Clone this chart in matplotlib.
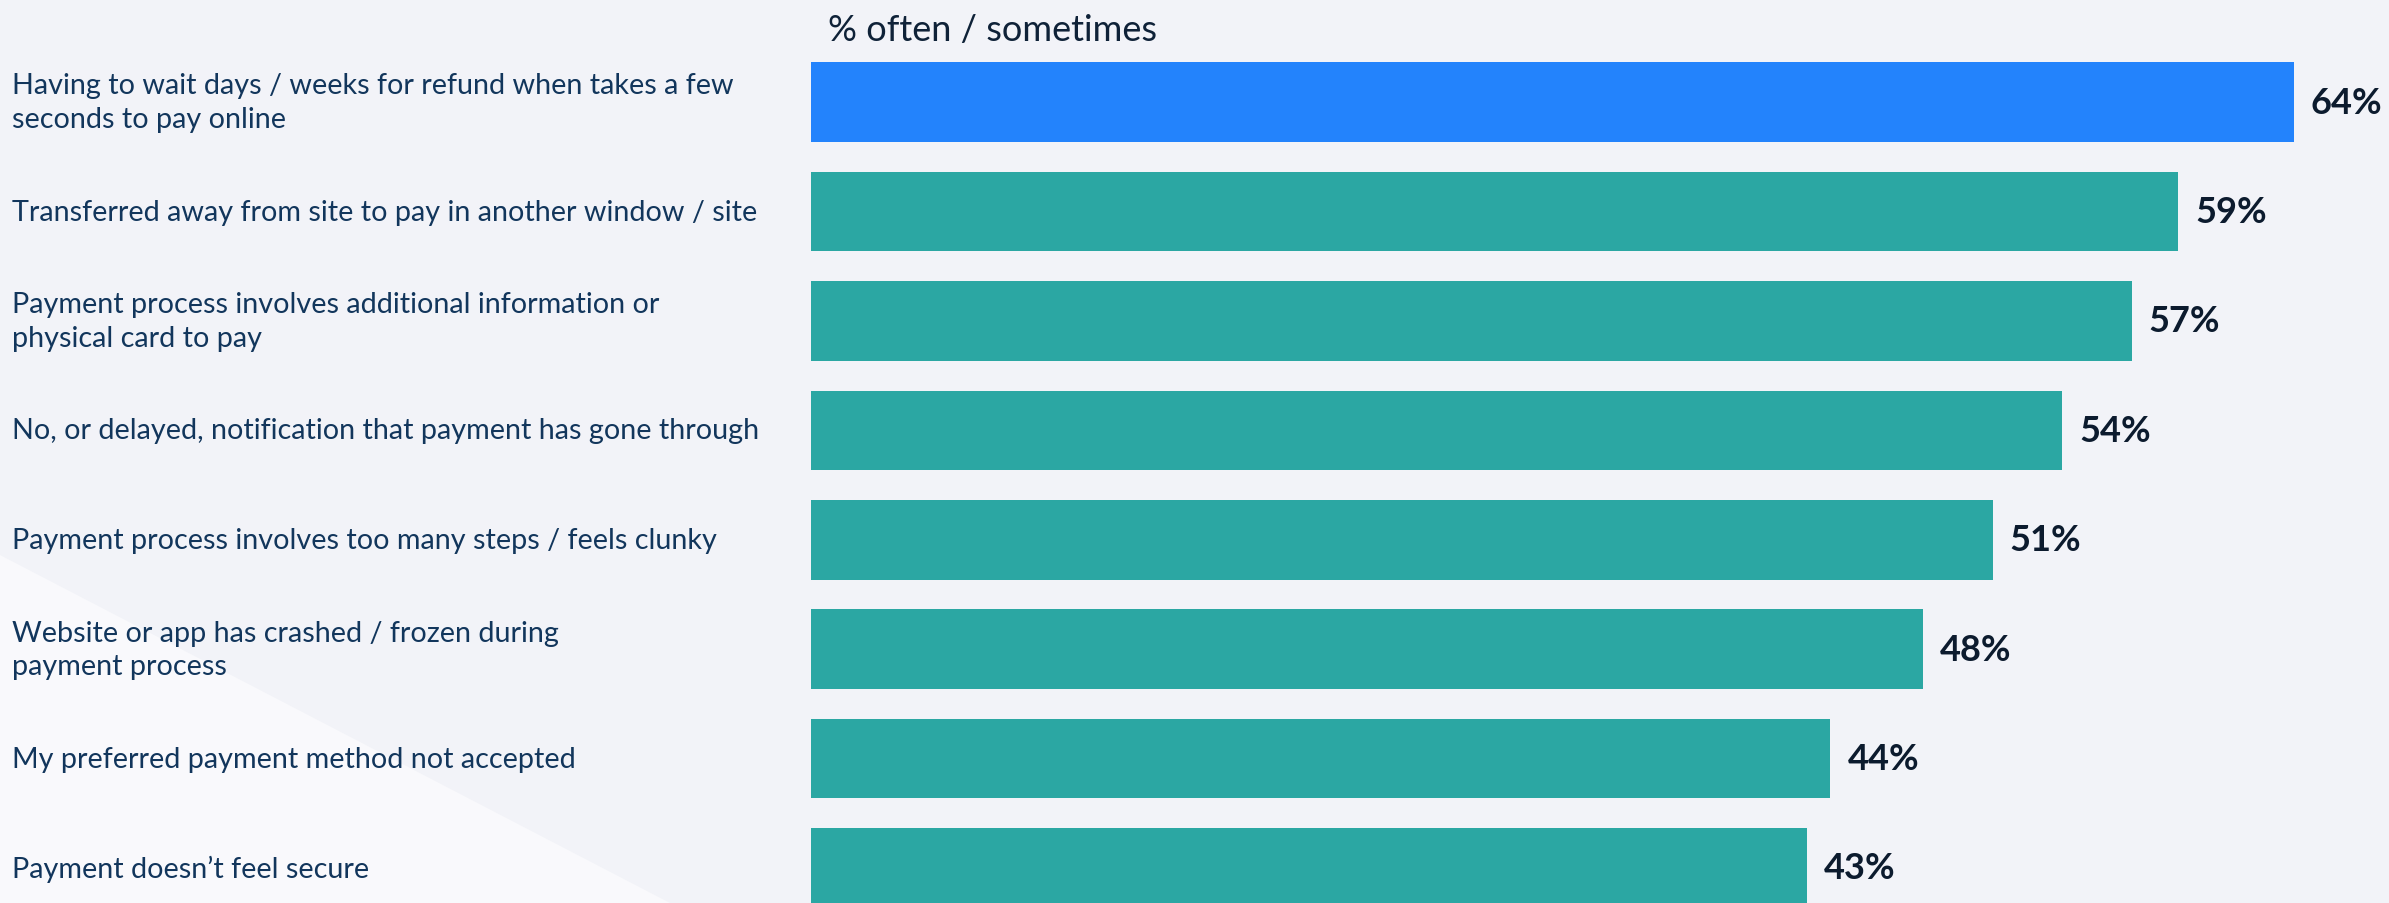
import matplotlib
matplotlib.use("Agg")
import matplotlib.pyplot as plt
from matplotlib.patches import Polygon
from matplotlib.transforms import blended_transform_factory

BG = "#f2f3f8"
LIGHT = "#f9f9fc"
BLUE = "#2383fc"
TEAL = "#2ba7a3"
LABEL_C = "#12365c"
VALUE_C = "#0c1b2e"

labels = [
    "Having to wait days / weeks for refund when takes a few\nseconds to pay online",
    "Transferred away from site to pay in another window / site",
    "Payment process involves additional information or\nphysical card to pay",
    "No, or delayed, notification that payment has gone through",
    "Payment process involves too many steps / feels clunky",
    "Website or app has crashed / frozen during\npayment process",
    "My preferred payment method not accepted",
    "Payment doesn\u2019t feel secure",
]
values = [64, 59, 57, 54, 51, 48, 44, 43]
highlight = [True, False, False, False, False, False, False, False]
title = "% often / sometimes"

plt.rcParams["font.family"] = ["Lato", "DejaVu Sans"]

W, H = 2389, 904
fig = plt.figure(figsize=(W / 100, H / 100), dpi=100, facecolor=BG)

# light diagonal wedge in the lower-left corner
fig.add_artist(Polygon([(0, 0), (0, 1 - 556 / H), (670 / W, 0)],
                       closed=True, transform=fig.transFigure,
                       facecolor=LIGHT, edgecolor="none", zorder=0))

x0 = 811 / W
ax = fig.add_axes([x0, 0, 1 - x0, 1])
ax.set_facecolor("none")
ax.set_xlim(0, (W - 811) / 23.17)
ax.set_ylim(7.32, -0.943)
ax.set_axis_off()

ypos = list(range(len(values)))
colors = [BLUE if h else TEAL for h in highlight]
ax.barh(ypos, values, height=0.728, color=colors, edgecolor="none")

for y, v in zip(ypos, values):
    ax.annotate(f"{v}%", (v, y), xytext=(17, 0), textcoords="offset pixels",
                ha="left", va="center", fontsize=26, fontweight="bold",
                color=VALUE_C)

tr = blended_transform_factory(fig.transFigure, ax.transData)
for y, lab in zip(ypos, labels):
    ax.text(12 / W, y, lab, transform=tr, ha="left", va="center",
            fontsize=20.7, color=LABEL_C, linespacing=1.35)

fig.text(828 / W, 1 - 41 / H, title, ha="left", va="baseline",
         fontsize=26, color="#0f2238")

fig.savefig("out.png", dpi=100, facecolor=BG)
